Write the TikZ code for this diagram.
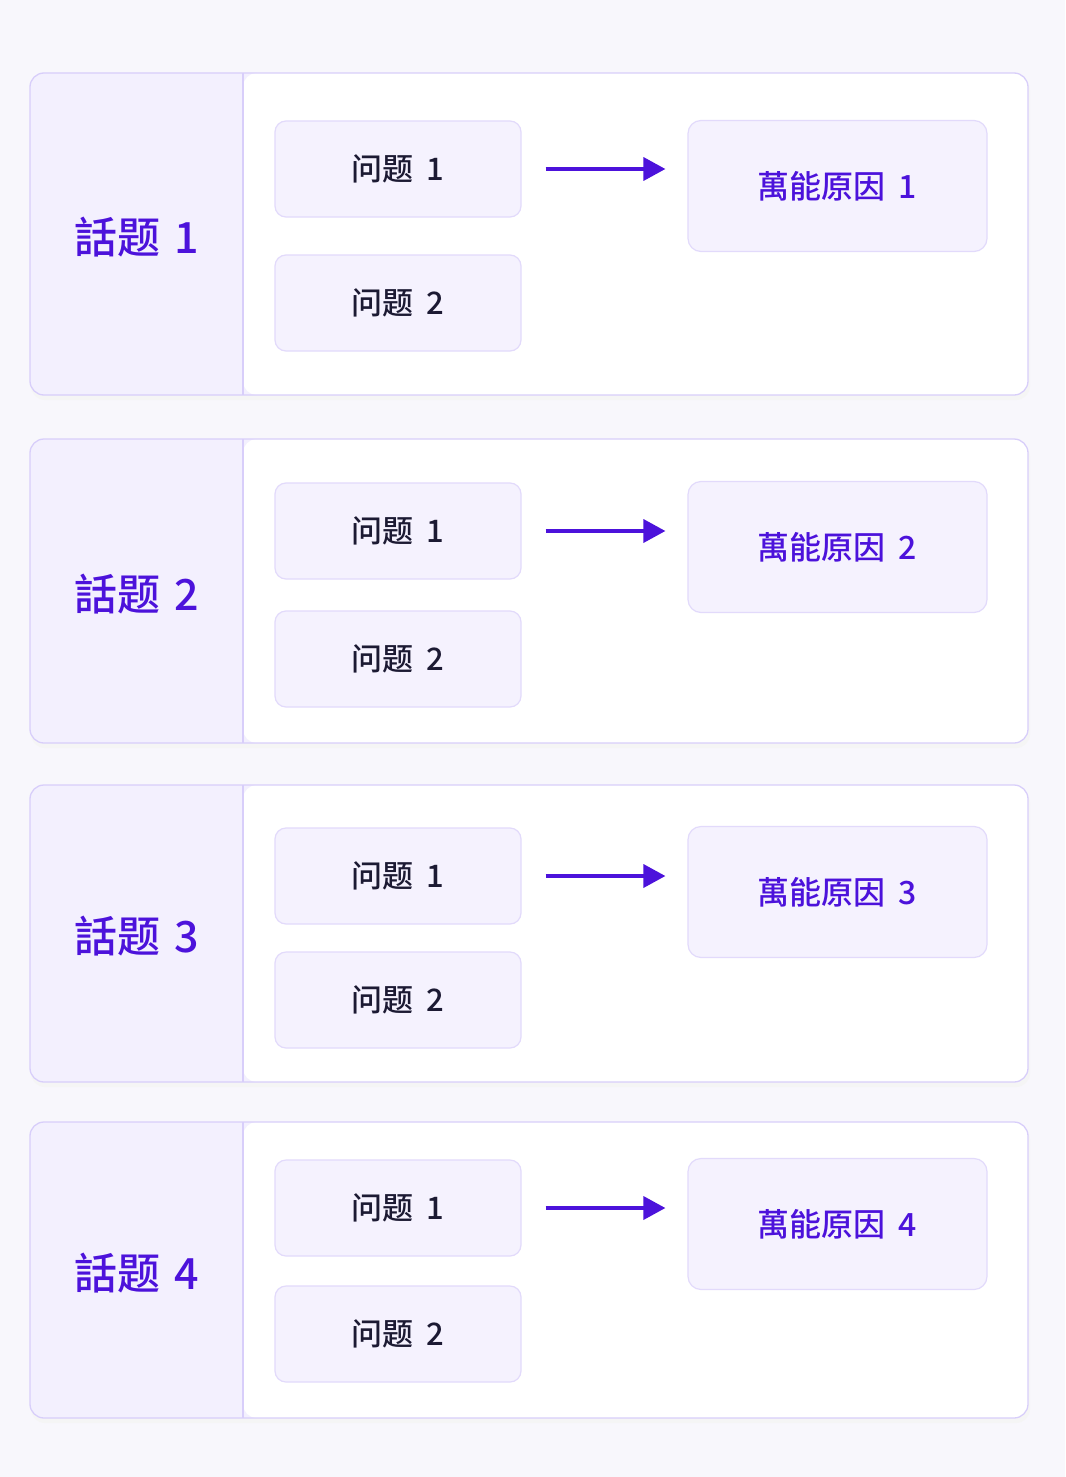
\documentclass[tikz,border=0pt]{standalone}
\usepackage{fontspec}
\usepackage{xcolor}
\usetikzlibrary{arrows.meta}
\newfontfamily\cjk{Noto Sans CJK SC}[UprightFont={* Medium}]
\definecolor{fondo}{RGB}{248,247,252}
\definecolor{lila}{RGB}{243,240,254}
\definecolor{borde}{RGB}{216,206,250}
\definecolor{caja}{RGB}{245,242,254}
\definecolor{cajaborde}{RGB}{226,218,251}
\definecolor{tinta}{RGB}{76,18,219}
\definecolor{texto}{RGB}{28,26,51}

\begin{document}
\begin{tikzpicture}[x=1pt, y=-1pt,
    pregunta/.style={draw=cajaborde, fill=caja, line width=1.2pt, rounded corners=11pt,
      minimum width=246pt, minimum height=96pt, text=texto,
      font=\cjk\fontsize{31}{38}\selectfont},
    causa/.style={draw=cajaborde, fill=caja, line width=1.2pt, rounded corners=13pt,
      minimum width=299pt, minimum height=131pt, text=tinta,
      font=\cjk\fontsize{32}{40}\selectfont},
    tema/.style={text=tinta, font=\cjk\fontsize{43}{52}\selectfont},
    flecha/.style={tinta, line width=3.6pt, -{Triangle[length=22pt, width=23pt]}}]
  \fill[fondo] (0,0) rectangle (1065,1477);
  \useasboundingbox (0,0) rectangle (1065,1477);
  \foreach \n/\t/\b/\qa/\qb/\c in {1/73/395/169/303/186, 2/439/743/531/659/547,
      3/785/1082/876/1000/892, 4/1122/1418/1208/1334/1224} {
    % panel
    \fill[black!4, rounded corners=14pt] (31,\t+4) rectangle (1030,\b+5);
    \fill[lila, rounded corners=14pt] (30,\t) rectangle (1028,\b);
    \fill[white, rounded corners=14pt] (243,\t) rectangle (1028,\b);
    \draw[borde, line width=1.3pt, rounded corners=14pt] (30,\t) rectangle (1028,\b);
    \draw[borde, line width=1.3pt] (243,\t) -- (243,\b);
    % textos
    \node[tema] (t\n) at (137,{(\t+\b)/2+3}) {話题\hspace{0.33em}\n};
    \node[pregunta] (qa\n) at (398,\qa) {问题\hspace{0.4em}1};
    \node[pregunta] (qb\n) at (398,\qb) {问题\hspace{0.4em}2};
    \node[causa] (c\n) at (837.5,\c) {萬能原因\hspace{0.4em}\n};
    \draw[flecha] ([xshift=24pt]qa\n.east) -- ([xshift=-22pt]qa\n.east -| c\n.west);
  }
\end{tikzpicture}
\end{document}
